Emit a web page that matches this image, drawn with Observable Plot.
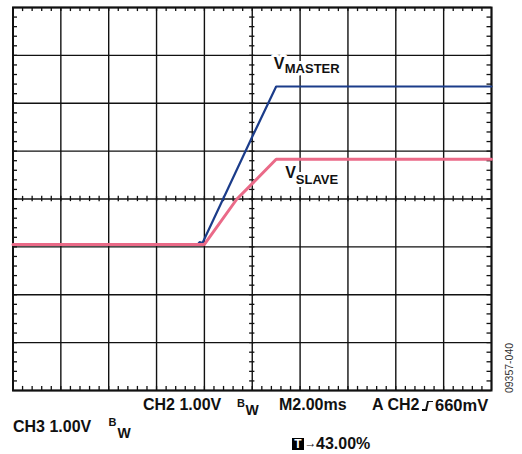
<!DOCTYPE html>
<html>
<head>
<meta charset="utf-8">
<script src="https://cdn.jsdelivr.net/npm/d3@7"></script>
<script src="https://cdn.jsdelivr.net/npm/@observablehq/plot@0.6"></script>
<style>
  html, body { margin: 0; padding: 0; background: #fff; }
  #wrap { position: relative; width: 522px; height: 454px; overflow: hidden;
          font-family: "Liberation Sans", Arial, Helvetica, sans-serif; font-weight: bold; color: #111; }
  #wrap svg { position: absolute; left: 0; top: 0; }
  .t { position: absolute; white-space: pre; line-height: 1; }
  .tbox { position: absolute; background: #000; color: #fff; font-size: 12px; line-height: 12px;
          text-align: center; }
  .trig { position: absolute; }
  .trig i { position: absolute; display: block; background: #111; }
  .rot { position: absolute; white-space: pre; line-height: 1; font-weight: normal; color: #333;
         transform: translate(-50%, -50%) rotate(-90deg); }
</style>
</head>
<body>
<div id="wrap"></div>
<script>
// ---- Data (oscilloscope divisions: x 0..10, y -4..4) ----
const gridX = [0, 1, 2, 3, 4, 5, 6, 7, 8, 9, 10];
const gridY = [-4, -3, -2, -1, 0, 1, 2, 3, 4];

const masterX = [0, 3.86, 3.90, 3.96, 5.00, 5.50, 10];
const masterY = [-0.95, -0.95, -0.90, -0.92, 1.30, 2.35, 2.35];

const slaveX = [0, 4.00, 4.68, 5.00, 5.50, 10];
const slaveY = [-0.95, -0.95, 0.00, 0.32, 0.83, 0.83];

const labelText = ["V", "MASTER", "V", "SLAVE"];
const labelX = [5.45, 5.68, 5.69, 5.91];
const labelY = [2.72, 2.63, 0.43, 0.32];
const labelSize = [16, 13, 16, 13];

const bottomText = ["CH2 1.00V", "B", "W", "M2.00ms", "A CH2", "660mV", "CH3 1.00V", "B", "W", "\u2192", "43.00%"];

// ---- Derived tables ----
const master = masterX.map((x, i) => ({x, y: masterY[i]}));
const slave = slaveX.map((x, i) => ({x, y: slaveY[i]}));
const labels = labelText.map((t, i) => ({t, x: labelX[i], y: labelY[i], s: labelSize[i]}));
const minorX = d3.range(1, 50).map(i => i / 5);
const minorY = d3.range(-19, 20).map(i => i / 5);

const tlx = 0.094, tly = 0.085, tc = 0.055;
const ink = "#111";
const blue = "#1b3c8a", pink = "#ea6a88";

const chart = Plot.plot({
  width: 522, height: 454,
  marginLeft: 12.5, marginRight: 31, marginTop: 7, marginBottom: 64,
  x: {domain: [0, 10], axis: null},
  y: {domain: [-4, 4], axis: null},
  style: {background: "transparent", fontFamily: "'Liberation Sans', Arial, sans-serif"},
  marks: [
    Plot.ruleX(gridX, {stroke: ink, strokeWidth: 1.4}),
    Plot.ruleY(gridY, {stroke: ink, strokeWidth: 1.4}),
    // minor ticks on edges
    Plot.ruleX(minorX, {y1: 4, y2: 4 - tly, stroke: ink, strokeWidth: 1.3}),
    Plot.ruleX(minorX, {y1: -4, y2: -4 + tly, stroke: ink, strokeWidth: 1.3}),
    Plot.ruleY(minorY, {x1: 0, x2: tlx, stroke: ink, strokeWidth: 1.3}),
    Plot.ruleY(minorY, {x1: 10, x2: 10 - tlx, stroke: ink, strokeWidth: 1.3}),
    // minor ticks on center cross
    Plot.ruleX(minorX, {y1: -tc, y2: tc, stroke: ink, strokeWidth: 1.3}),
    Plot.ruleY(minorY, {x1: 5 - tc, x2: 5 + tc, stroke: ink, strokeWidth: 1.3}),
    Plot.frame({stroke: ink, strokeWidth: 2}),
    // traces
    Plot.line(master, {x: "x", y: "y", stroke: blue, strokeWidth: 2.2, strokeLinejoin: "round"}),
    Plot.line(slave, {x: "x", y: "y", stroke: pink, strokeWidth: 3, strokeLinejoin: "round"}),
    // labels: halo then text
    Plot.text(labels, {x: "x", y: "y", text: "t", fontSize: "s", textAnchor: "start", lineAnchor: "bottom",
      fontWeight: "bold", fill: "white", stroke: "white", strokeWidth: 6}),
    Plot.text(labels, {x: "x", y: "y", text: "t", fontSize: "s", textAnchor: "start", lineAnchor: "bottom",
      fontWeight: "bold", fill: ink})
  ]
});

const wrap = document.getElementById("wrap");
wrap.appendChild(chart);

// bottom status text, positioned by baseline
function put(text, x, base, size) {
  const s = document.createElement("div");
  s.className = "t";
  s.textContent = text;
  s.style.left = x + "px";
  s.style.top = (base - 0.8465 * size) + "px";
  s.style.fontSize = size + "px";
  wrap.appendChild(s);
  return s;
}
put(bottomText[0], 143, 411, 16);
put(bottomText[1], 237, 407, 11);
put(bottomText[2], 245.5, 414.5, 14);
put(bottomText[3], 279, 411, 16);
put(bottomText[4], 372, 411, 16);
put(bottomText[5], 435, 411, 16.5);
put(bottomText[6], 13, 433, 16);
put(bottomText[7], 108.5, 426, 11);
put(bottomText[8], 117.5, 437.5, 14);
put(bottomText[9], 304.5, 447.5, 12);
put(bottomText[10], 316, 450, 16);

// T marker
const tb = document.createElement("div");
tb.className = "tbox";
tb.textContent = "T";
Object.assign(tb.style, {left: "292px", top: "438px", width: "12px", height: "12px"});
wrap.appendChild(tb);

// trigger edge glyph
const trig = document.createElement("div");
trig.className = "trig";
Object.assign(trig.style, {left: "421.5px", top: "400.5px", width: "12px", height: "10px"});
trig.innerHTML = '<i style="left:0;top:8.5px;width:5px;height:1.5px"></i>' +
  '<i style="left:4.3px;top:0;width:1.5px;height:10px;transform:skewX(-12deg)"></i>' +
  '<i style="left:5.5px;top:0;width:6px;height:1.5px"></i>';
wrap.appendChild(trig);

// figure id
const r = document.createElement("div");
r.className = "rot";
r.textContent = "09357-040";
Object.assign(r.style, {left: "509px", top: "367.5px", fontSize: "10.5px"});
wrap.appendChild(r);
</script>
</body>
</html>
